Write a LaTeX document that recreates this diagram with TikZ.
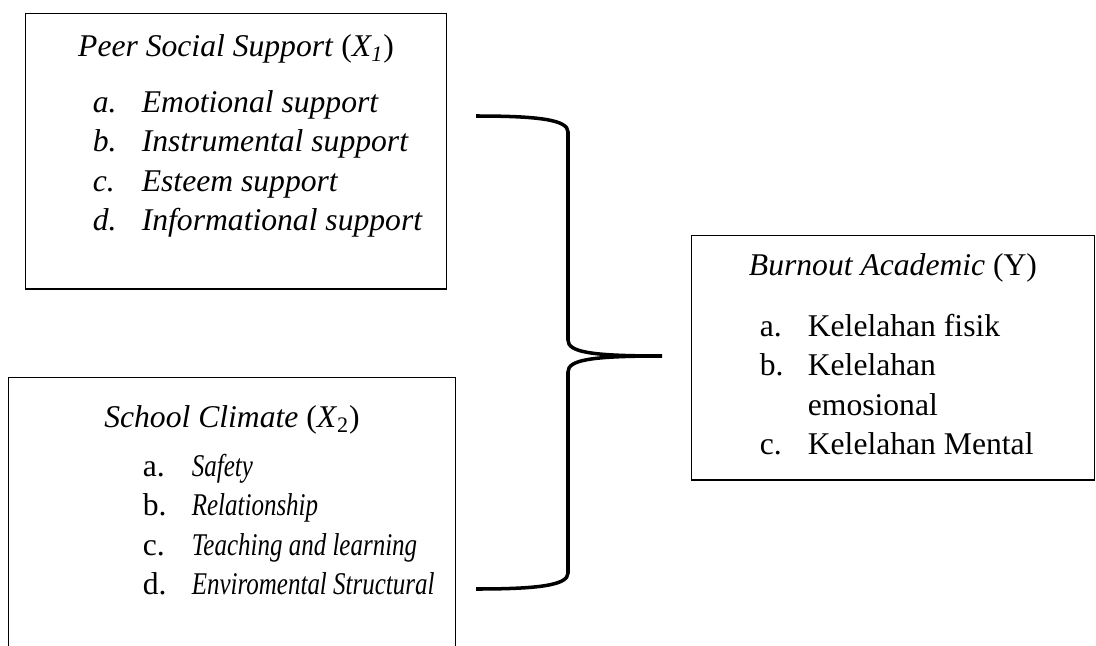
\documentclass[tikz,border=0pt]{standalone}
\usepackage{fontspec}
\setmainfont{Liberation Serif}[ItalicFont={Liberation Serif Italic}, BoldFont={Liberation Serif Bold}]
\newfontface\narrowit{Liberation Serif Italic}[FakeStretch=0.79]
\usetikzlibrary{positioning, calc}

\begin{document}
\begin{tikzpicture}[
  x=0.02cm, y=-0.02cm,
  varbox/.style={draw, line width=0.6pt, inner sep=0pt},
  vartitle/.style={anchor=base, inner sep=0pt, font=\fontsize{18}{22.4}\selectfont},
  varlist/.style={anchor=base west, inner sep=0pt, font=\fontsize{18}{22.4}\selectfont},
  bracket/.style={line width=2pt}
]
  \useasboundingbox (0,0) rectangle (1096,646);

  % boxes of the variables
  \node[varbox, minimum width=8.44cm, minimum height=5.52cm] (x1box) at (236,151) {};
  \node[varbox, minimum width=8.96cm, minimum height=6.46cm] (x2box) at (232,538.5) {};
  \node[varbox, minimum width=8.08cm, minimum height=4.9cm] (ybox) at (893,357.5) {};

  % titles
  \node[vartitle] (x1title) at ([shift={(0,44)}]x1box.north) {\textit{Peer Social Support} (\textit{X\textsubscript{1}})};
  \node[vartitle] (x2title) at ([shift={(0,51)}]x2box.north) {\textit{School Climate} (\textit{X}\textsubscript{2})};
  \node[vartitle] (ytitle) at ([shift={(0,41)}]ybox.north) {\textit{Burnout Academic} (Y)};

  % indicators
  \node[varlist] (x1list) at ([shift={(68,100)}]x1box.north west) {%
    \begin{tabular}[t]{@{}p{0.98cm}@{}l@{}}
      \textit{a.} & \textit{Emotional support}\\
      \textit{b.} & \textit{Instrumental support}\\
      \textit{c.} & \textit{Esteem support}\\
      \textit{d.} & \textit{Informational support}
    \end{tabular}};
  \node[varlist] (x2list) at ([shift={(135,100)}]x2box.north west) {%
    \begin{tabular}[t]{@{}p{0.98cm}@{}l@{}}
      a. & {\narrowit Safety}\\
      b. & {\narrowit Relationship}\\
      c. & {\narrowit Teaching and learning}\\
      d. & {\narrowit Enviromental Structural}
    \end{tabular}};
  \node[varlist] (ylist) at ([shift={(69,102)}]ybox.north west) {%
    \begin{tabular}[t]{@{}p{0.96cm}@{}l@{}}
      a. & Kelelahan fisik\\
      b. & Kelelahan\\
         & emosional\\
      c. & Kelelahan Mental
    \end{tabular}};

  % brace joining X1 and X2 to Y
  \coordinate (bracetop) at (476,116);
  \coordinate (bracebot) at (476,589);
  \coordinate (bracetip) at (662,356);
  \draw[bracket] (bracetop) .. controls (540,116) and (568,120) .. (568,132)
    -- (568,340) .. controls (568,352) and (590,356) .. (bracetip)
    .. controls (590,356) and (568,360) .. (568,372)
    -- (568,573) .. controls (568,585) and (540,589) .. (bracebot);
\end{tikzpicture}
\end{document}
